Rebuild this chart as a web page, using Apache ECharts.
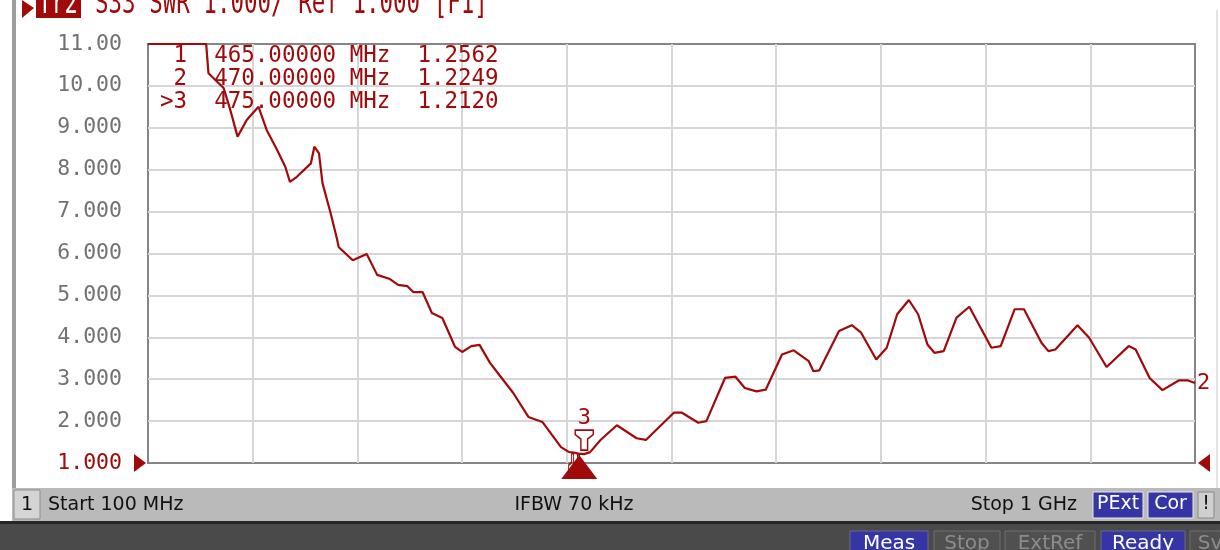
<!DOCTYPE html>
<html><head><meta charset="utf-8">
<script src="https://cdn.jsdelivr.net/npm/echarts@6/dist/echarts.min.js"></script>
<style>html,body{margin:0;padding:0;background:#fff}#c{width:1220px;height:550px}</style>
</head><body><div id="c"></div>
<script>
// ---- data ----
const freqMHz = [100,150,152,153,165,170,177,185,195,202,211,218,222,228,240,243,247,250,257,262,264,276,288,297,308,315,323,328,336,344,353,364,370,378,385,394,402,414,427,439,455,462,465,470,475,480,489,503,520,528,552,559,573,580,596,605,613,623,631,645,655,668,672,677,694,705,713,726,735,744,754,762,770,776,784,795,806,825,833,845,853,868,874,880,899,909,924,943,949,961,972,986,994,1000];
const swr = [11,11,10.30,10.26,9.95,9.50,8.79,9.19,9.50,8.95,8.47,8.07,7.71,7.83,8.15,8.55,8.39,7.68,6.96,6.40,6.15,5.84,5.99,5.49,5.39,5.25,5.22,5.08,5.08,4.58,4.46,3.77,3.65,3.79,3.82,3.39,3.10,2.67,2.10,1.98,1.38,1.26,1.2562,1.2249,1.2120,1.26,1.55,1.90,1.59,1.55,2.20,2.20,1.96,2.00,3.03,3.06,2.79,2.71,2.75,3.59,3.69,3.43,3.19,3.21,4.15,4.29,4.11,3.47,3.75,4.55,4.89,4.55,3.83,3.63,3.67,4.47,4.73,3.75,3.79,4.67,4.67,3.87,3.67,3.71,4.29,3.99,3.29,3.79,3.71,3.03,2.74,2.97,2.97,2.91];
const markerIds = ['1','2','3'];
const markerFreqs = [465, 470, 475];
const markerVals = [1.2562, 1.2249, 1.2120];
const activeMarker = 2;
const yTicks = [1,2,3,4,5,6,7,8,9,10,11];
const refLevel = 1;
const startMHz = 100, stopMHz = 1000;
const headerText = 'S33 SWR 1.000/ Ref 1.000 [F1]';
const traceName = 'Tr2';
const statusLeft = 'Start 100 MHz', statusMid = 'IFBW 70 kHz', statusRight = 'Stop 1 GHz';

const RED = '#a00a0a';
const MONO = 'DejaVu Sans Mono';
const SANS = 'DejaVu Sans';

const chart = echarts.init(document.getElementById('c'), null, {renderer:'canvas'});
const lineData = freqMHz.map((f,i)=>[f, swr[i]]);

const tableRows = markerIds.map((id,i)=>({
  type:'text', left:160, top: 45 + i*22.8, z:50,
  style:{ text: (i===activeMarker?'>':' ') + id + '  ' + markerFreqs[i].toFixed(5) + ' MHz  ' + markerVals[i].toFixed(4),
    fill: RED, font: '22.5px "'+MONO+'"' }
}));

function box(x,y,w,h,fill,stroke,txt,txtFill,font){
  return [{type:'rect', shape:{x:x,y:y,width:w,height:h}, style:{fill:fill, stroke:stroke, lineWidth:1}, z:5},
          {type:'text', x:x+w/2, y:y+3, style:{text:txt, fill:txtFill, font:font, textAlign:'center', textVerticalAlign:'top'}, z:6}];
}

const graphics = [
  // left frame
  {type:'rect', shape:{x:12,y:0,width:4,height:488}, style:{fill:'#9c9c9c'}, z:1},
  {type:'rect', shape:{x:1216,y:10,width:2,height:478}, style:{fill:'#e2e2e2'}, z:1},
  // header (cut off at the top of the window)
  {type:'polygon', shape:{points:[[22,0],[34,8],[22,18]]}, style:{fill:RED}, z:10},
  {type:'rect', shape:{x:36,y:-4,width:45,height:22}, style:{fill:RED}, z:10},
  {type:'text', x:58, y:21, scaleY:1.45, style:{text:traceName, fill:'#fff', font:'22px "'+MONO+'"', textAlign:'center', textVerticalAlign:'bottom'}, z:11},
  {type:'text', x:95, y:21, scaleY:1.45, style:{text:headerText, fill:RED, font:'22.5px "'+MONO+'"', textVerticalAlign:'bottom'}, z:11},
  // status bar
  {type:'rect', shape:{x:12,y:488,width:1208,height:34}, style:{fill:'#bababa'}, z:1},
  {type:'rect', shape:{x:0,y:522,width:1220,height:28}, style:{fill:'#4a4a4a'}, z:1},
  {type:'rect', shape:{x:0,y:521,width:1220,height:3}, style:{fill:'#262626'}, z:2},
  {type:'rect', shape:{x:14,y:490,width:26,height:29}, style:{fill:'#d4d4d4', stroke:'#8e8e8e', lineWidth:1}, z:3},
  {type:'text', x:27, y:505, style:{text:'1', fill:'#111', font:'19px "'+SANS+'"', textAlign:'center', textVerticalAlign:'middle'}, z:4},
  {type:'text', x:48, y:505, style:{text:statusLeft, fill:'#111', font:'19px "'+SANS+'"', textVerticalAlign:'middle'}, z:4},
  {type:'text', x:574, y:505, style:{text:statusMid, fill:'#111', font:'19px "'+SANS+'"', textAlign:'center', textVerticalAlign:'middle'}, z:4},
  {type:'text', x:1077, y:505, style:{text:statusRight, fill:'#111', font:'19px "'+SANS+'"', textAlign:'right', textVerticalAlign:'middle'}, z:4},
  ...box(1093,492,50,26,'#3535a5','#e8e8e8','PExt','#fff','19px "'+SANS+'"'),
  ...box(1148,492,45,26,'#3535a5','#e8e8e8','Cor','#fff','19px "'+SANS+'"'),
  ...box(1198,492,16,26,'#cfcfcf','#888','!','#111','19px "'+SANS+'"'),
  // bottom buttons
  ...box(850,531,78,24,'#3535a5','#6a6a8a','Meas','#fff','20px "'+SANS+'"'),
  ...box(934,531,66,24,'#505050','#6e6e6e','Stop','#8c8c8c','20px "'+SANS+'"'),
  ...box(1005,531,90,24,'#505050','#6e6e6e','ExtRef','#8c8c8c','20px "'+SANS+'"'),
  ...box(1101,531,84,24,'#3535a5','#6a6a8a','Ready','#fff','20px "'+SANS+'"'),
  ...box(1190,531,40,24,'#505050','#6e6e6e','Sv','#8c8c8c','20px "'+SANS+'"'),
  ...tableRows
];

const markerPin = 'path://M0,0 L16,0 L16,4 L11,8 L11,18 L5,18 L5,8 L0,4 Z';
const smallPin = 'path://M3,0 L5,0 L5,9 L8,12 L8,20 L0,20 L0,12 L3,9 Z';

const option = {
  animation:false,
  backgroundColor:'#ffffff',
  grid:{left:148, right:25, top:44, bottom:87, show:true, borderColor:'#858585', borderWidth:2, backgroundColor:'#ffffff', z:0},
  xAxis:[
    {type:'value', min:startMHz, max:stopMHz, axisLine:{show:false}, axisTick:{show:false}, axisLabel:{show:false}, splitLine:{show:false}},
    {type:'value', min:0, max:stopMHz-startMHz, interval:90, position:'bottom', axisLine:{show:false}, axisTick:{show:false}, axisLabel:{show:false},
     splitLine:{show:true, showMinLine:false, showMaxLine:false, lineStyle:{color:'#d6d6d6', width:2}}}
  ],
  yAxis:{type:'value', min:yTicks[0], max:yTicks[yTicks.length-1], interval:1,
    axisLine:{show:false}, axisTick:{show:false},
    axisLabel:{margin:26, fontFamily:MONO, fontSize:21.5,
      color:(v)=> (Number(v)===refLevel ? RED : '#727272'),
      formatter:(v)=> v>=10 ? v.toFixed(2) : v.toFixed(3)},
    splitLine:{show:true, showMinLine:false, showMaxLine:false, lineStyle:{color:'#d6d6d6', width:2}}},
  series:[
    {type:'line', xAxisIndex:0, data:lineData, showSymbol:false, symbol:'none', clip:false, z:5,
     lineStyle:{color:RED, width:2.2}, itemStyle:{color:RED},
     endLabel:{show:true, formatter:'2', color:RED, fontFamily:MONO, fontSize:22, distance:2}},
    // active marker pin (above trace)
    {type:'scatter', xAxisIndex:0, clip:false, z:8,
     data:[[markerFreqs[activeMarker], markerVals[activeMarker]]],
     symbol:markerPin, symbolSize:[18,20], symbolOffset:[0,-14], symbolKeepAspect:false,
     itemStyle:{color:'rgba(255,255,255,0)', borderColor:RED, borderWidth:1.5, opacity:1},
     label:{show:true, position:'top', distance:0, formatter:markerIds[activeMarker], color:RED, fontFamily:MONO, fontSize:22}},
    // inactive marker pins (below trace)
    {type:'scatter', xAxisIndex:0, clip:false, z:8,
     data:markerFreqs.slice(0,activeMarker).map((f,i)=>[f, markerVals[i]]),
     symbol:smallPin, symbolSize:[8,20], symbolOffset:[0,11],
     itemStyle:{color:'rgba(255,255,255,0)', borderColor:RED, borderWidth:1.5, opacity:1}},
    // stimulus indicator of active marker on the axis
    {type:'scatter', xAxisIndex:0, clip:false, z:9,
     data:[[markerFreqs[activeMarker], yTicks[0]]],
     symbol:'triangle', symbolSize:[36,24], symbolOffset:[-5,4],
     itemStyle:{color:RED, opacity:1}},
    // reference level arrows
    {type:'scatter', xAxisIndex:0, clip:false, z:9,
     data:[[startMHz, refLevel]], symbol:'triangle', symbolRotate:-90, symbolSize:[18,12], symbolOffset:[-8,0],
     itemStyle:{color:RED, opacity:1}},
    {type:'scatter', xAxisIndex:0, clip:false, z:9,
     data:[[stopMHz, refLevel]], symbol:'triangle', symbolRotate:90, symbolSize:[18,12], symbolOffset:[9,0],
     itemStyle:{color:RED, opacity:1}}
  ],
  graphic:graphics
};
chart.setOption(option);
</script></body></html>
